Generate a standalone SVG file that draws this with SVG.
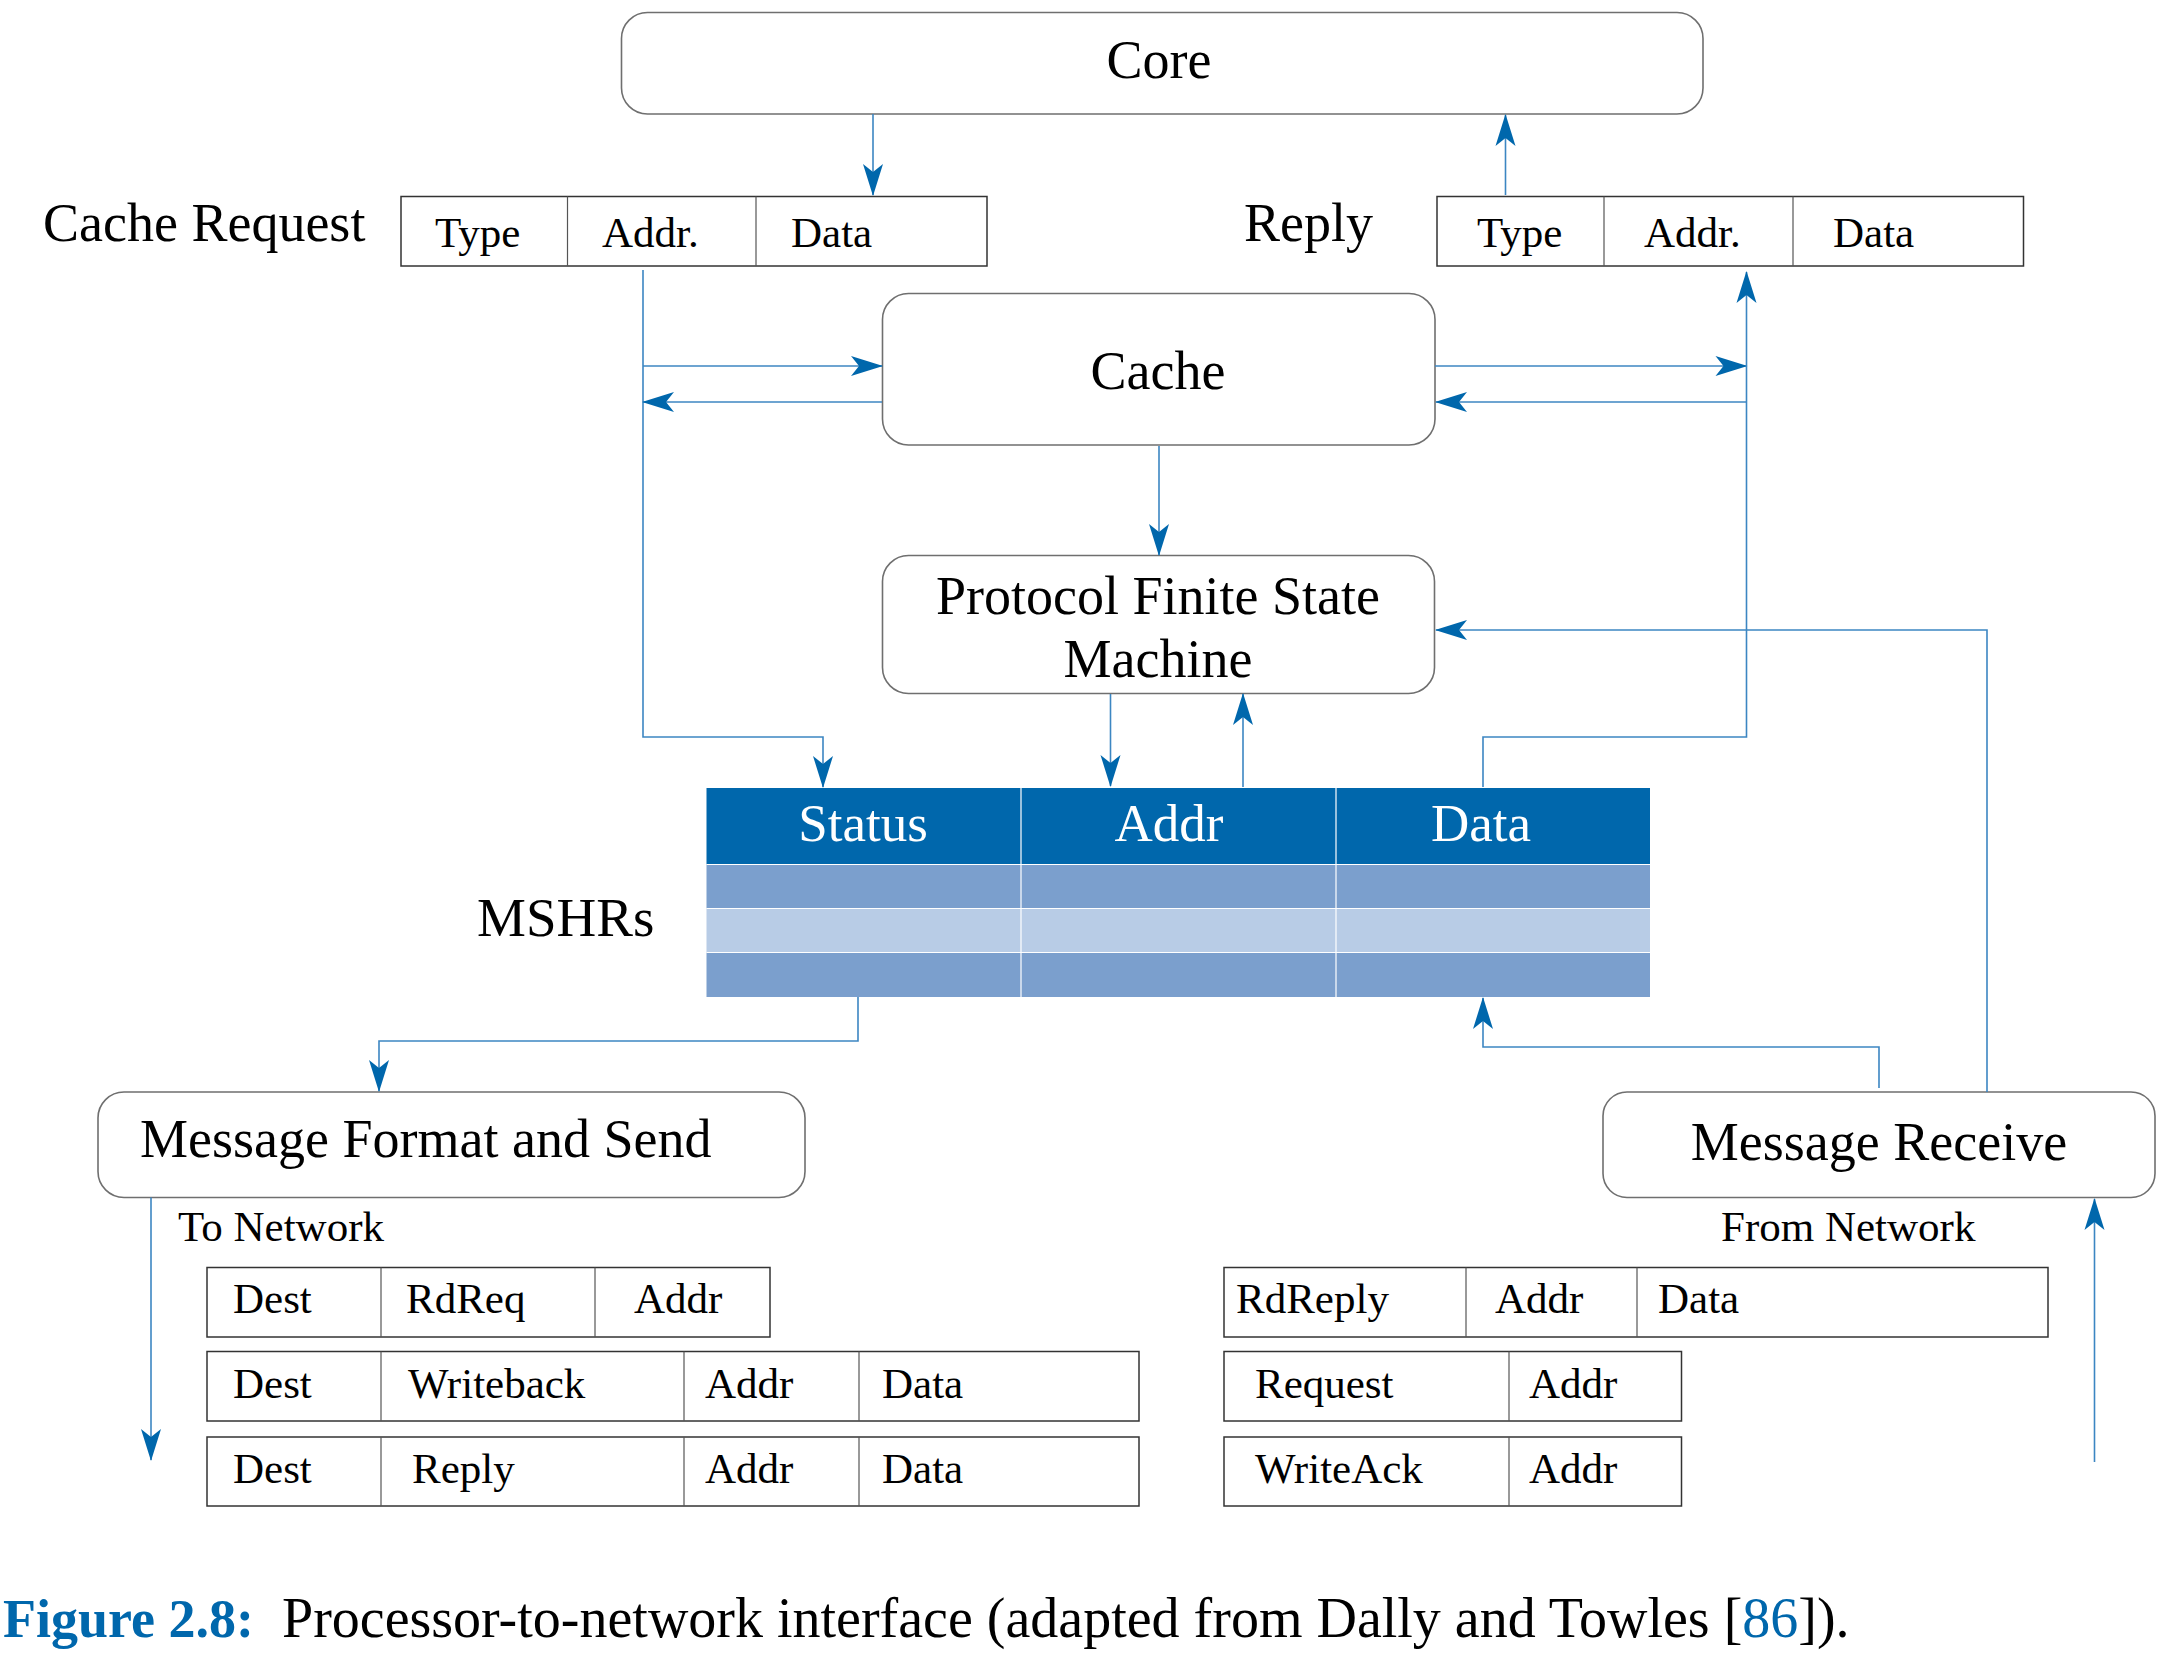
<svg xmlns="http://www.w3.org/2000/svg" width="2167" height="1662" viewBox="0 0 2167 1662">
<style>
.box{fill:#fff;stroke:#6f6f6f;stroke-width:1.6}
.tbl{fill:#fff;stroke:#333;stroke-width:1.5}
.div{stroke:#555;stroke-width:1.2}
.big{font-family:"Liberation Serif",serif;font-size:54px;fill:#000}
.cell{font-family:"Liberation Serif",serif;font-size:43px;fill:#000}
.hdr{font-family:"Liberation Serif",serif;font-size:53px;fill:#fff;text-anchor:middle}
.mid{text-anchor:middle}
.conn path{fill:none;stroke:#3c86c2;stroke-width:1.6}
.grid{stroke:#fff;stroke-width:1.2}
</style>
<defs>
<marker id="ah" viewBox="0 0 32 20" refX="31" refY="10" markerWidth="32" markerHeight="20" markerUnits="userSpaceOnUse" orient="auto" overflow="visible">
<path d="M32,10 L0,0 L8,10 L0,20 Z" fill="#0067ac"/>
</marker>
</defs>
<rect width="2167" height="1662" fill="#fff"/>

<g id="core"><rect class="box" x="621.5" y="12.5" width="1081.5" height="101.5" rx="26"/><text class="big mid" x="1159" y="78">Core</text></g>

<g id="cache-request">
<text class="big" x="43" y="241">Cache Request</text>
<rect class="tbl" x="401" y="196.5" width="586" height="69.5"/>
<line class="div" x1="567.5" y1="196.5" x2="567.5" y2="266"/>
<line class="div" x1="756" y1="196.5" x2="756" y2="266"/>
<text class="cell" x="435" y="247">Type</text><text class="cell" x="602" y="247">Addr.</text><text class="cell" x="791" y="247">Data</text>
</g>

<g id="reply">
<text class="big" x="1244" y="241">Reply</text>
<rect class="tbl" x="1437" y="196.5" width="586.5" height="69.5"/>
<line class="div" x1="1604" y1="196.5" x2="1604" y2="266"/>
<line class="div" x1="1793" y1="196.5" x2="1793" y2="266"/>
<text class="cell" x="1477" y="247">Type</text><text class="cell" x="1644" y="247">Addr.</text><text class="cell" x="1833" y="247">Data</text>
</g>

<g id="cache"><rect class="box" x="882.5" y="293.5" width="552.5" height="151.5" rx="26"/><text class="big mid" x="1158" y="389">Cache</text></g>

<g id="pfsm"><rect class="box" x="882.5" y="555.5" width="552" height="138" rx="26"/>
<text class="big mid" x="1158" y="614">Protocol Finite State</text>
<text class="big mid" x="1158" y="677">Machine</text></g>

<g id="mshrs">
<text class="big" x="477" y="936" style="font-size:55px">MSHRs</text>
<rect x="706.5" y="788" width="943.5" height="76.5" fill="#0067ac"/>
<rect x="706.5" y="864.5" width="943.5" height="44" fill="#7b9fcd"/>
<rect x="706.5" y="908.5" width="943.5" height="44" fill="#b8cce6"/>
<rect x="706.5" y="952.5" width="943.5" height="44.5" fill="#7b9fcd"/>
<line class="grid" x1="706.5" y1="864.5" x2="1650" y2="864.5"/>
<line class="grid" x1="706.5" y1="908.5" x2="1650" y2="908.5"/>
<line class="grid" x1="706.5" y1="952.5" x2="1650" y2="952.5"/>
<line class="grid" x1="1021" y1="788" x2="1021" y2="997"/>
<line class="grid" x1="1336" y1="788" x2="1336" y2="997"/>
<text class="hdr" x="863" y="841">Status</text>
<text class="hdr" x="1169" y="841">Addr</text>
<text class="hdr" x="1481" y="841">Data</text>
</g>

<g id="msg-send"><rect class="box" x="98" y="1092" width="707" height="105.5" rx="26"/><text class="big" x="140" y="1157">Message Format and Send</text>
<text class="cell" x="178" y="1241">To Network</text></g>

<g id="msg-receive"><rect class="box" x="1603" y="1092" width="552" height="105.5" rx="24"/><text class="big mid" x="1879" y="1160">Message Receive</text>
<text class="cell" x="1721" y="1241">From Network</text></g>

<g id="send-formats">
<rect class="tbl" x="207" y="1267.5" width="563" height="69.5"/>
<line class="div" x1="381" y1="1267.5" x2="381" y2="1337"/><line class="div" x1="595" y1="1267.5" x2="595" y2="1337"/>
<text class="cell" x="233" y="1313">Dest</text><text class="cell" x="406" y="1313">RdReq</text><text class="cell" x="634" y="1313">Addr</text>
<rect class="tbl" x="207" y="1351.5" width="932" height="69.5"/>
<line class="div" x1="381" y1="1351.5" x2="381" y2="1421"/><line class="div" x1="684" y1="1351.5" x2="684" y2="1421"/><line class="div" x1="859" y1="1351.5" x2="859" y2="1421"/>
<text class="cell" x="233" y="1398">Dest</text><text class="cell" x="408" y="1398">Writeback</text><text class="cell" x="705" y="1398">Addr</text><text class="cell" x="882" y="1398">Data</text>
<rect class="tbl" x="207" y="1437" width="932" height="69"/>
<line class="div" x1="381" y1="1437" x2="381" y2="1506"/><line class="div" x1="684" y1="1437" x2="684" y2="1506"/><line class="div" x1="859" y1="1437" x2="859" y2="1506"/>
<text class="cell" x="233" y="1483">Dest</text><text class="cell" x="412" y="1483">Reply</text><text class="cell" x="705" y="1483">Addr</text><text class="cell" x="882" y="1483">Data</text>
</g>

<g id="receive-formats">
<rect class="tbl" x="1224" y="1267.5" width="824" height="69.5"/>
<line class="div" x1="1466" y1="1267.5" x2="1466" y2="1337"/><line class="div" x1="1637" y1="1267.5" x2="1637" y2="1337"/>
<text class="cell" x="1236" y="1313">RdReply</text><text class="cell" x="1495" y="1313">Addr</text><text class="cell" x="1658" y="1313">Data</text>
<rect class="tbl" x="1224" y="1351.5" width="457.5" height="69.5"/>
<line class="div" x1="1509" y1="1351.5" x2="1509" y2="1421"/>
<text class="cell" x="1255" y="1398">Request</text><text class="cell" x="1529" y="1398">Addr</text>
<rect class="tbl" x="1224" y="1437" width="457.5" height="69"/>
<line class="div" x1="1509" y1="1437" x2="1509" y2="1506"/>
<text class="cell" x="1255" y="1483">WriteAck</text><text class="cell" x="1529" y="1483">Addr</text>
</g>

<g id="connectors" class="conn">
<path d="M873,114 V195" marker-end="url(#ah)"/>
<path d="M1505.5,195 V115" marker-end="url(#ah)"/>
<path d="M643,270 V737 H823 V787" marker-end="url(#ah)"/>
<path d="M643,366 H882" marker-end="url(#ah)"/>
<path d="M882,402 H643" marker-end="url(#ah)"/>
<path d="M1435,366 H1746.5" marker-end="url(#ah)"/>
<path d="M1746.5,402 H1436" marker-end="url(#ah)"/>
<path d="M1483,787 V737 H1746.5 V272" marker-end="url(#ah)"/>
<path d="M1159,446 V555" marker-end="url(#ah)"/>
<path d="M1110.5,694 V786" marker-end="url(#ah)"/>
<path d="M1243,787 V694" marker-end="url(#ah)"/>
<path d="M858,997 V1041 H379 V1091" marker-end="url(#ah)"/>
<path d="M1879,1088 V1047 H1483 V998" marker-end="url(#ah)"/>
<path d="M1987,1092 V630 H1436" marker-end="url(#ah)"/>
<path d="M151,1197.5 V1460" marker-end="url(#ah)"/>
<path d="M2094.5,1462 V1199" marker-end="url(#ah)"/>
</g>

<g id="caption">
<text x="3" y="1637" style="font-family:'Liberation Serif',serif;font-size:54px;font-weight:bold;fill:#0067ac">Figure 2.8:</text>
<text x="282" y="1637" style="font-family:'Liberation Serif',serif;font-size:56px;fill:#000">Processor-to-network interface (adapted from Dally and Towles [<tspan fill="#0067ac">86</tspan>]).</text>
</g>
</svg>
